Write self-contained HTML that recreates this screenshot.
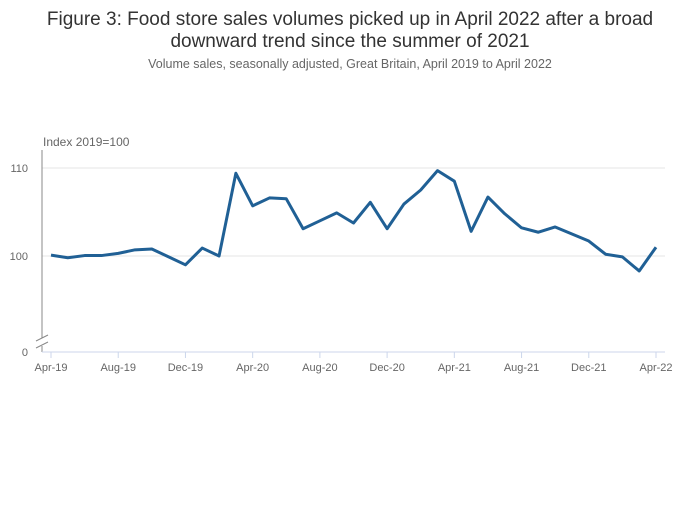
<!DOCTYPE html>
<html><head><meta charset="utf-8"><style>
body{margin:0;background:#fff;font-family:"Liberation Sans",sans-serif;}
svg text{font-family:"Liberation Sans",sans-serif;}
</style></head><body>
<svg id="chart" width="700" height="502">
<text x="350" y="25" text-anchor="middle" font-size="19" fill="#333">Figure 3: Food store sales volumes picked up in April 2022 after a broad</text>
<text x="350" y="47" text-anchor="middle" font-size="19" fill="#333">downward trend since the summer of 2021</text>
<text x="350" y="68" text-anchor="middle" font-size="12.5" fill="#666">Volume sales, seasonally adjusted, Great Britain, April 2019 to April 2022</text>
<text x="43" y="146" font-size="12" fill="#666">Index 2019=100</text>
<g id="grid"></g><g id="axes"></g><g id="series"></g>
</svg>
<script>
const categories=["Apr-19","May-19","Jun-19","Jul-19","Aug-19","Sep-19","Oct-19","Nov-19","Dec-19","Jan-20","Feb-20","Mar-20","Apr-20","May-20","Jun-20","Jul-20","Aug-20","Sep-20","Oct-20","Nov-20","Dec-20","Jan-21","Feb-21","Mar-21","Apr-21","May-21","Jun-21","Jul-21","Aug-21","Sep-21","Oct-21","Nov-21","Dec-21","Jan-22","Feb-22","Mar-22","Apr-22"];
const values=[100.1,99.8,100.05,100.05,100.3,100.7,100.8,99.9,99.0,100.9,100.0,109.4,105.7,106.6,106.5,103.1,104.0,104.9,103.75,106.1,103.1,105.9,107.5,109.7,108.5,102.8,106.7,104.8,103.2,102.7,103.3,102.5,101.7,100.2,99.9,98.3,101.0];
const xTickLabels=["Apr-19","Aug-19","Dec-19","Apr-20","Aug-20","Dec-20","Apr-21","Aug-21","Dec-21","Apr-22"];
const yTicks=[100,110];
const NS="http://www.w3.org/2000/svg";
const x0=51,x1=656,plotL=42,plotR=665;
function xs(i){return x0+(x1-x0)*i/(categories.length-1);}
function ys(v){return 256-(v-100)*8.8;}
function mk(tag,attrs,parent){const e=document.createElementNS(NS,tag);for(const k in attrs)e.setAttribute(k,attrs[k]);parent.appendChild(e);return e;}
const grid=document.getElementById('grid'),axes=document.getElementById('axes'),series=document.getElementById('series');
yTicks.forEach(t=>{
  const l=mk('line',{x1:plotL,x2:plotR,y1:ys(t),y2:ys(t),stroke:'#e6e6e6','stroke-width':1},grid);
  
  
  const tx=mk('text',{x:28,y:ys(t)+4,'font-size':11,fill:'#666','text-anchor':'end'},axes);
  tx.textContent=t;
  
  
});
const zero=mk('text',{x:28,y:356,'font-size':11,fill:'#666','text-anchor':'end'},axes);
zero.textContent='0';


const ya=mk('line',{x1:42,x2:42,y1:150,y2:338,stroke:'#888'},axes);


const ya2=mk('line',{x1:42,x2:42,y1:346,y2:352,stroke:'#888'},axes);


const br=mk('path',{d:'M36 341 L48 335 M36 348 L48 342',stroke:'#888',fill:'none'},axes);


const xa=mk('line',{x1:plotL,x2:plotR,y1:352,y2:352,stroke:'#ccd6eb'},axes);


xTickLabels.forEach(lbl=>{
  const i=categories.indexOf(lbl);const x=xs(i);
  const tk=mk('line',{x1:x,x2:x,y1:352,y2:358,stroke:'#ccd6eb'},axes);
  
  
  const t=mk('text',{x:x,y:371,'font-size':11,fill:'#666','text-anchor':'middle'},axes);
  t.textContent=lbl;
  
  
});
const p=mk('polyline',{points:values.map((v,i)=>xs(i)+','+ys(v)).join(' '),fill:'none',stroke:'#206095','stroke-width':3,'stroke-linejoin':'round'},series);


</script>
</body></html>
